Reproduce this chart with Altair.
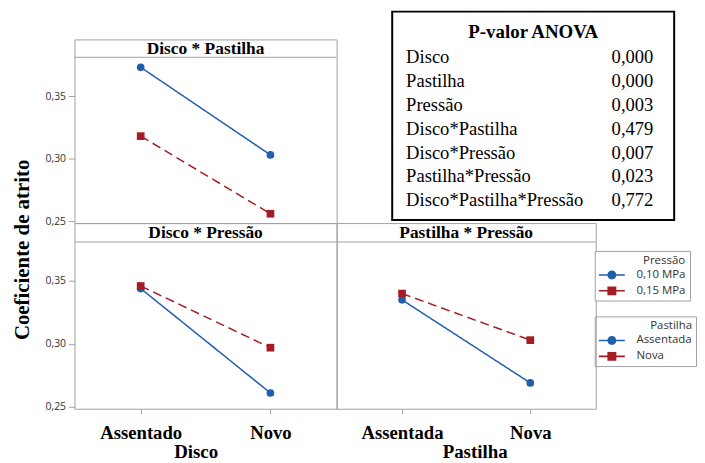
import altair as alt
import pandas as pd

# ---------------- data ----------------
disco = ["Assentado", "Novo"]
pastilha = ["Assentada", "Nova"]
pressao = ["0,10 MPa", "0,15 MPa"]

# Disco * Pastilha (lines by Pastilha)
dp_assentada = [0.373, 0.303]
dp_nova = [0.318, 0.256]
# Disco * Pressão (lines by Pressão)
dpr_010 = [0.344, 0.261]
dpr_015 = [0.346, 0.297]
# Pastilha * Pressão (lines by Pressão)
ppr_010 = [0.335, 0.269]
ppr_015 = [0.340, 0.303]

panel_titles = ["Disco * Pastilha", "Disco * Pressão", "Pastilha * Pressão"]

termos = ["Disco", "Pastilha", "Pressão", "Disco*Pastilha", "Disco*Pressão",
          "Pastilha*Pressão", "Disco*Pastilha*Pressão"]
p_valores = [0.000, 0.000, 0.003, 0.479, 0.007, 0.023, 0.772]

y_ticks = [0.25, 0.30, 0.35]

# ---------------- style ----------------
BLUE = "#1f5fab"
RED = "#a51d24"
COLORS = [BLUE, RED]
SHAPES = ["circle", "square"]
GRAY = "#a0a0a0"
SERIF = "Liberation Serif"
SANS = "Open Sans"
YDOM = [0.2485, 0.381]

# legend glyphs: short line with the marker on it (filled outlines only)
BAR = "M-2.9,-0.17L2.9,-0.17L2.9,0.17L-2.9,0.17Z"
PATH_C = BAR + "M1,0A1,1,0,1,1,-1,0A1,1,0,1,1,1,0Z"
PATH_S = BAR + "M-1,-1L1,-1L1,1L-1,1Z"


def frame(xcats, groups, series):
    rows = []
    for g, vals in zip(groups, series):
        for xc, v in zip(xcats, vals):
            rows.append({"x": xc, "grupo": g, "valor": v})
    return pd.DataFrame(rows)


df_tl = frame(disco, pastilha, [dp_assentada, dp_nova])
df_bl = frame(disco, pressao, [dpr_010, dpr_015])
df_br = frame(pastilha, pressao, [ppr_010, ppr_015])


def legend_layer(df, groups, title, lx, ly):
    leg = alt.Legend(title=title, orient="none", legendX=lx, legendY=ly,
                     symbolSize=81, symbolStrokeWidth=0, symbolOffset=7.5,
                     labelOffset=19, titleAnchor="end", symbolOpacity=1)
    return alt.Chart(df).transform_filter("false").mark_point(
        filled=True, size=81, opacity=1).encode(
        fill=alt.Fill("grupo:N", scale=alt.Scale(domain=groups, range=COLORS),
                      legend=leg),
        shape=alt.Shape("grupo:N",
                        scale=alt.Scale(domain=groups, range=[PATH_C, PATH_S]),
                        legend=leg))


def panel(df, xcats, groups, title, W, H, S, x_axis, y_axis, legend=None):
    xenc = alt.X("x:N", sort=xcats,
                 scale=alt.Scale(type="point", domain=xcats, padding=0.51),
                 axis=x_axis)
    yenc = alt.Y("valor:Q",
                 scale=alt.Scale(domain=YDOM, range=[H, S], zero=False, nice=False),
                 axis=y_axis)
    color = alt.Color("grupo:N", scale=alt.Scale(domain=groups, range=COLORS),
                      legend=None)
    dash = alt.StrokeDash("grupo:N",
                          scale=alt.Scale(domain=groups, range=[[1, 0], [9, 5]]),
                          legend=None)
    base = alt.Chart(df)
    lines = base.mark_line(strokeWidth=1.5).encode(x=xenc, y=yenc, color=color,
                                                   strokeDash=dash, detail="grupo:N")
    pts = [
        base.transform_filter(alt.datum.grupo == g).mark_point(
            filled=True, size=60, opacity=1, shape=SHAPES[i], color=COLORS[i]
        ).encode(x=xenc, y=yenc)
        for i, g in enumerate(groups)
    ]
    tdf = pd.DataFrame({"t": [title]})
    strip_rule = alt.Chart(tdf).mark_rule(color=GRAY, strokeWidth=1).encode(
        x=alt.value(0), x2=alt.value(W), y=alt.value(S))
    strip_text = alt.Chart(tdf).mark_text(font=SERIF, fontWeight="bold", fontSize=17.5,
                                          baseline="middle", color="black").encode(
        x=alt.value(W / 2), y=alt.value(S / 2 + 1), text="t:N")
    layers = [strip_rule, strip_text, lines] + pts
    if legend is not None:
        layers.append(legend)
    ch = alt.layer(*layers).properties(width=W, height=H)
    if legend is not None:
        ch = ch.resolve_scale(fill="independent", shape="independent")
    return ch


def y_axis(title=None, **kw):
    args = dict(values=y_ticks,
                labelExpr="replace(format(datum.value, '.2f'), '.', ',')",
                labelFont=SANS, labelFontSize=10.5, labelColor="#333333",
                tickSize=6, tickColor=GRAY, domain=False, grid=False,
                labelPadding=3)
    if title:
        args.update(title=title, titleFont=SERIF, titleFontWeight="bold",
                    titleFontSize=21, titleColor="black", titleAngle=270,
                    titleBaseline="middle", **kw)
    else:
        args.update(title=None)
    return alt.Axis(**args)


def x_axis(title, tx):
    return alt.Axis(title=title, titleX=tx, labelAngle=0, labelFont=SERIF,
                    labelFontWeight="bold", labelFontSize=18.8, labelColor="black",
                    labelPadding=10, tickSize=5, tickColor=GRAY, domain=False,
                    grid=False, titleFont=SERIF, titleFontWeight="bold",
                    titleFontSize=19, titleColor="black", titlePadding=0)


TL = panel(df_tl, disco, pastilha, panel_titles[0], 264, 185, 18,
           None, y_axis(),
           legend=legend_layer(df_tl, pastilha, "Pastilha", 524, 279))
BL = panel(df_bl, disco, pressao, panel_titles[1], 264, 187, 19,
           x_axis("Disco", 122),
           y_axis("Coeficiente de atrito", titleX=-52, titleY=26.5))
BR = panel(df_br, pastilha, pressao, panel_titles[2], 261, 187, 19,
           x_axis("Pastilha", 139), None,
           legend=legend_layer(df_br, pressao, "Pressão", 260, 28))

# ANOVA table cell
adf = pd.DataFrame({"termo": termos, "p": p_valores})
box = alt.Chart(pd.DataFrame({"t": ["P-valor ANOVA"]}))
rect = box.mark_rect(fill="white", stroke="black", strokeWidth=2).encode(
    x=alt.value(56), x2=alt.value(340), y=alt.value(-28), y2=alt.value(182))
head = box.mark_text(font=SERIF, fontWeight="bold", fontSize=19,
                     baseline="middle", color="black").encode(
    x=alt.value(198), y=alt.value(-7), text="t:N")
yrow = alt.Y("termo:N", sort=termos,
             scale=alt.Scale(type="point", domain=termos, range=[18, 162], padding=0),
             axis=None)
names = alt.Chart(adf).mark_text(font=SERIF, fontSize=18.7, align="left",
                                 baseline="middle", color="black").encode(
    x=alt.value(70), y=yrow, text="termo:N")
vals = alt.Chart(adf).transform_calculate(
    pv="replace(format(datum.p, '.3f'), '.', ',')").mark_text(
    font=SERIF, fontSize=18.7, align="left", baseline="middle", color="black").encode(
    x=alt.value(277), y=yrow, text="pv:N")
ANOVA = alt.layer(rect, head, names, vals).properties(
    width=261, height=185, view=alt.ViewBackground(stroke="transparent"))

chart = alt.concat(TL, ANOVA, BL, BR, columns=2, spacing=0).properties(
    align="each", bounds="flush",
    padding={"left": 3, "top": 0, "right": 0, "bottom": 0},
).resolve_scale(
    color="independent", strokeDash="independent", shape="independent",
    fill="independent"
).configure_view(stroke=GRAY, strokeWidth=1).configure_legend(
    strokeColor=GRAY, fillColor="white", padding=4, cornerRadius=0,
    labelFont=SANS, labelFontSize=11.5, labelColor="#333333",
    titleFont=SANS, titleFontSize=11.5, titleFontWeight="normal",
    titleColor="#333333", rowPadding=3, titlePadding=3
)

chart.save("out.html", embed_options={"renderer": "svg", "actions": False})
